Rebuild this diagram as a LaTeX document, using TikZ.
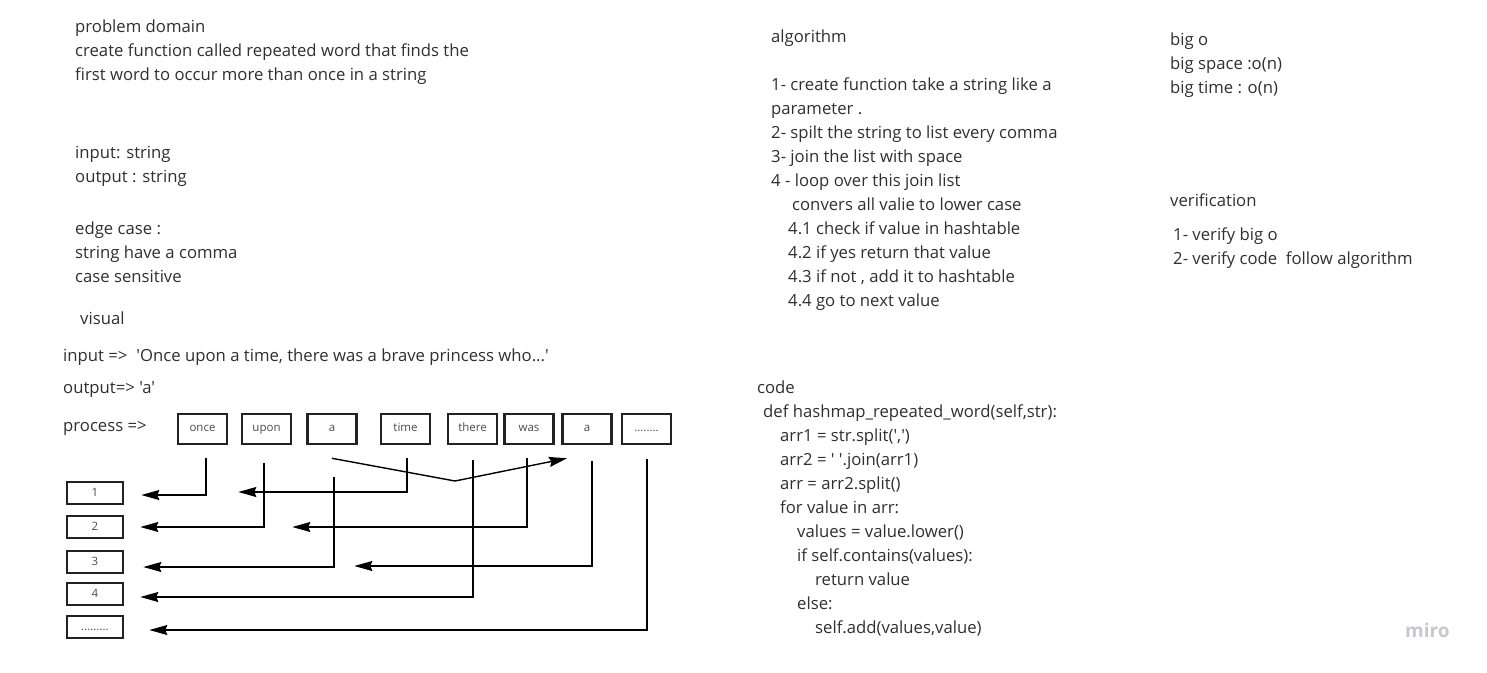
\documentclass[tikz,border=0pt]{standalone}
\usepackage{fontspec}
\newfontfamily\uifont{Open Sans}
\usetikzlibrary{arrows.meta}
\definecolor{ink}{HTML}{2F2F2F}
\definecolor{boxline}{HTML}{222222}
\definecolor{lbl}{HTML}{4A4A4A}
\definecolor{wmark}{HTML}{C6C7CF}
\begin{document}
\begin{tikzpicture}[x=1pt, y=-1pt,
    txt/.style={anchor=base west, inner sep=0pt, text=ink,
      font=\uifont\fontsize{16.7}{20}\selectfont},
    word/.style={draw=boxline, line width=2.6pt, minimum width=49pt,
      minimum height=30pt, inner sep=0pt, text=lbl,
      text height=1.2ex, text depth=0.2ex,
      font=\uifont\fontsize{11.5}{13}\selectfont},
    slot/.style={word, minimum width=56pt, minimum height=22pt,
      text height=1.45ex, text depth=0pt},
    link/.style={draw=black, line width=1.4pt,
      -{Stealth[length=18pt,width=10pt,inset=2pt]}}]
  \useasboundingbox (0,0) rectangle (1487,672);

  % problem domain
  \node[txt] (pd1) at (75,32) {problem domain};
  \node[txt] (pd2) at (75,56) {create function called repeated word that finds the};
  \node[txt] (pd3) at (75,80) {first word to occur more than once in a string};
  \node[txt] (io1) at (75,158) {input: string};
  \node[txt] (io2) at (75,182) {output : string};
  \node[txt] (ec1) at (75,234) {edge case :};
  \node[txt] (ec2) at (75,258) {string have a comma};
  \node[txt] (ec3) at (75,282) {case sensitive};
  \node[txt] (vis) at (80,324) {visual};
  \node[txt] (inp) at (63,361) {input =>\hspace{9pt}'Once upon a time, there was a brave princess who...'};
  \node[txt] (outp) at (63,393) {output=> 'a'};
  \node[txt] (proc) at (63,431) {process =>};

  % algorithm
  \node[txt] (al0) at (771,42) {algorithm};
  \node[txt] (al1) at (771,90) {1- create function take a string like a};
  \node[txt] (al2) at (771,114) {parameter .};
  \node[txt] (al3) at (771,138) {2- spilt the string to list every comma};
  \node[txt] (al4) at (771,162) {3- join the list with space};
  \node[txt] (al5) at (771,186) {4 - loop over this join list};
  \node[txt] (al6) at (792,210) {convers all valie to lower case};
  \node[txt] (al7) at (788,234) {4.1 check if value in hashtable};
  \node[txt] (al8) at (788,258) {4.2 if yes return that value};
  \node[txt] (al9) at (788,282) {4.3 if not , add it to hashtable};
  \node[txt] (al10) at (788,306) {4.4 go to next value};

  % big o and verification
  \node[txt] (bo1) at (1170,45) {big o};
  \node[txt] (bo2) at (1170,69) {big space :o(n)};
  \node[txt] (bo3) at (1170,93) {big time : o(n)};
  \node[txt] (ver) at (1170,206) {verification};
  \node[txt] (vf1) at (1173,240) {1- verify big o};
  \node[txt] (vf2) at (1173,264) {2- verify code\ \ follow algorithm};

  % code
  \node[txt] (cd0) at (757,393) {code};
  \node[txt] (cd1) at (763,417) {def hashmap\_repeated\_word(self,str):};
  \node[txt] (cd2) at (780,441) {arr1 = str.split(',')};
  \node[txt] (cd3) at (780,465) {arr2 = ' '.join(arr1)};
  \node[txt] (cd4) at (780,489) {arr = arr2.split()};
  \node[txt] (cd5) at (780,513) {for value in arr:};
  \node[txt] (cd6) at (797,537) {values = value.lower()};
  \node[txt] (cd7) at (797,561) {if self.contains(values):};
  \node[txt] (cd8) at (815,585) {return value};
  \node[txt] (cd9) at (797,609) {else:};
  \node[txt] (cd10) at (815,633) {self.add(values,value)};

  \node[anchor=base west, inner sep=0pt, text=wmark,
    font=\uifont\bfseries\fontsize{19}{20}\selectfont] (miro) at (1405,637) {miro};

  % words
  \node[word] (w1) at (202.5,429) {once};
  \node[word] (w2) at (266.5,429) {upon};
  \node[word] (w3) at (332,429) {a};
  \node[word] (w4) at (405.5,429) {time};
  \node[word] (w5) at (472.5,429) {there};
  \node[word] (w6) at (529,429) {was};
  \node[word] (w7) at (587,429) {a};
  \node[word] (w8) at (646.5,429) {........};

  % slots
  \node[slot] (s1) at (95,493) {1};
  \node[slot] (s2) at (95,527) {2};
  \node[slot] (s3) at (95,562) {3};
  \node[slot] (s4) at (95,594) {4};
  \node[slot] (s5) at (95,627) {.........};

  \coordinate (bend) at (455,481);
  \draw[link] ([yshift=-13pt]w3.south) -- (bend) -- ([xshift=-20pt,yshift=-13pt]w7.south);

  \draw[link] ([xshift=3.5pt,yshift=-13pt]w1.south) |- ([xshift=17pt,yshift=-2pt]s1.east);
  \draw[link] ([xshift=1.5pt,yshift=-13pt]w4.south) |- ([xshift=114pt,yshift=1pt]s1.east);
  \draw[link] ([xshift=-2.5pt,yshift=-18pt]w2.south) |- ([xshift=16pt]s2.east);
  \draw[link] ([xshift=-2pt,yshift=-13pt]w6.south) |- ([xshift=168pt]s2.east);
  \draw[link] ([xshift=2pt,yshift=-32pt]w3.south) |- ([xshift=19pt,yshift=-5pt]s3.east);
  \draw[link] ([xshift=5pt,yshift=-16pt]w7.south) |- ([xshift=230pt,yshift=-4pt]s3.east);
  \draw[link] ([xshift=0.5pt,yshift=-15pt]w5.south) |- ([xshift=16pt,yshift=-3pt]s4.east);
  \draw[link] ([xshift=0.5pt,yshift=-14pt]w8.south) |- ([xshift=25pt,yshift=-3pt]s5.east);
\end{tikzpicture}
\end{document}
